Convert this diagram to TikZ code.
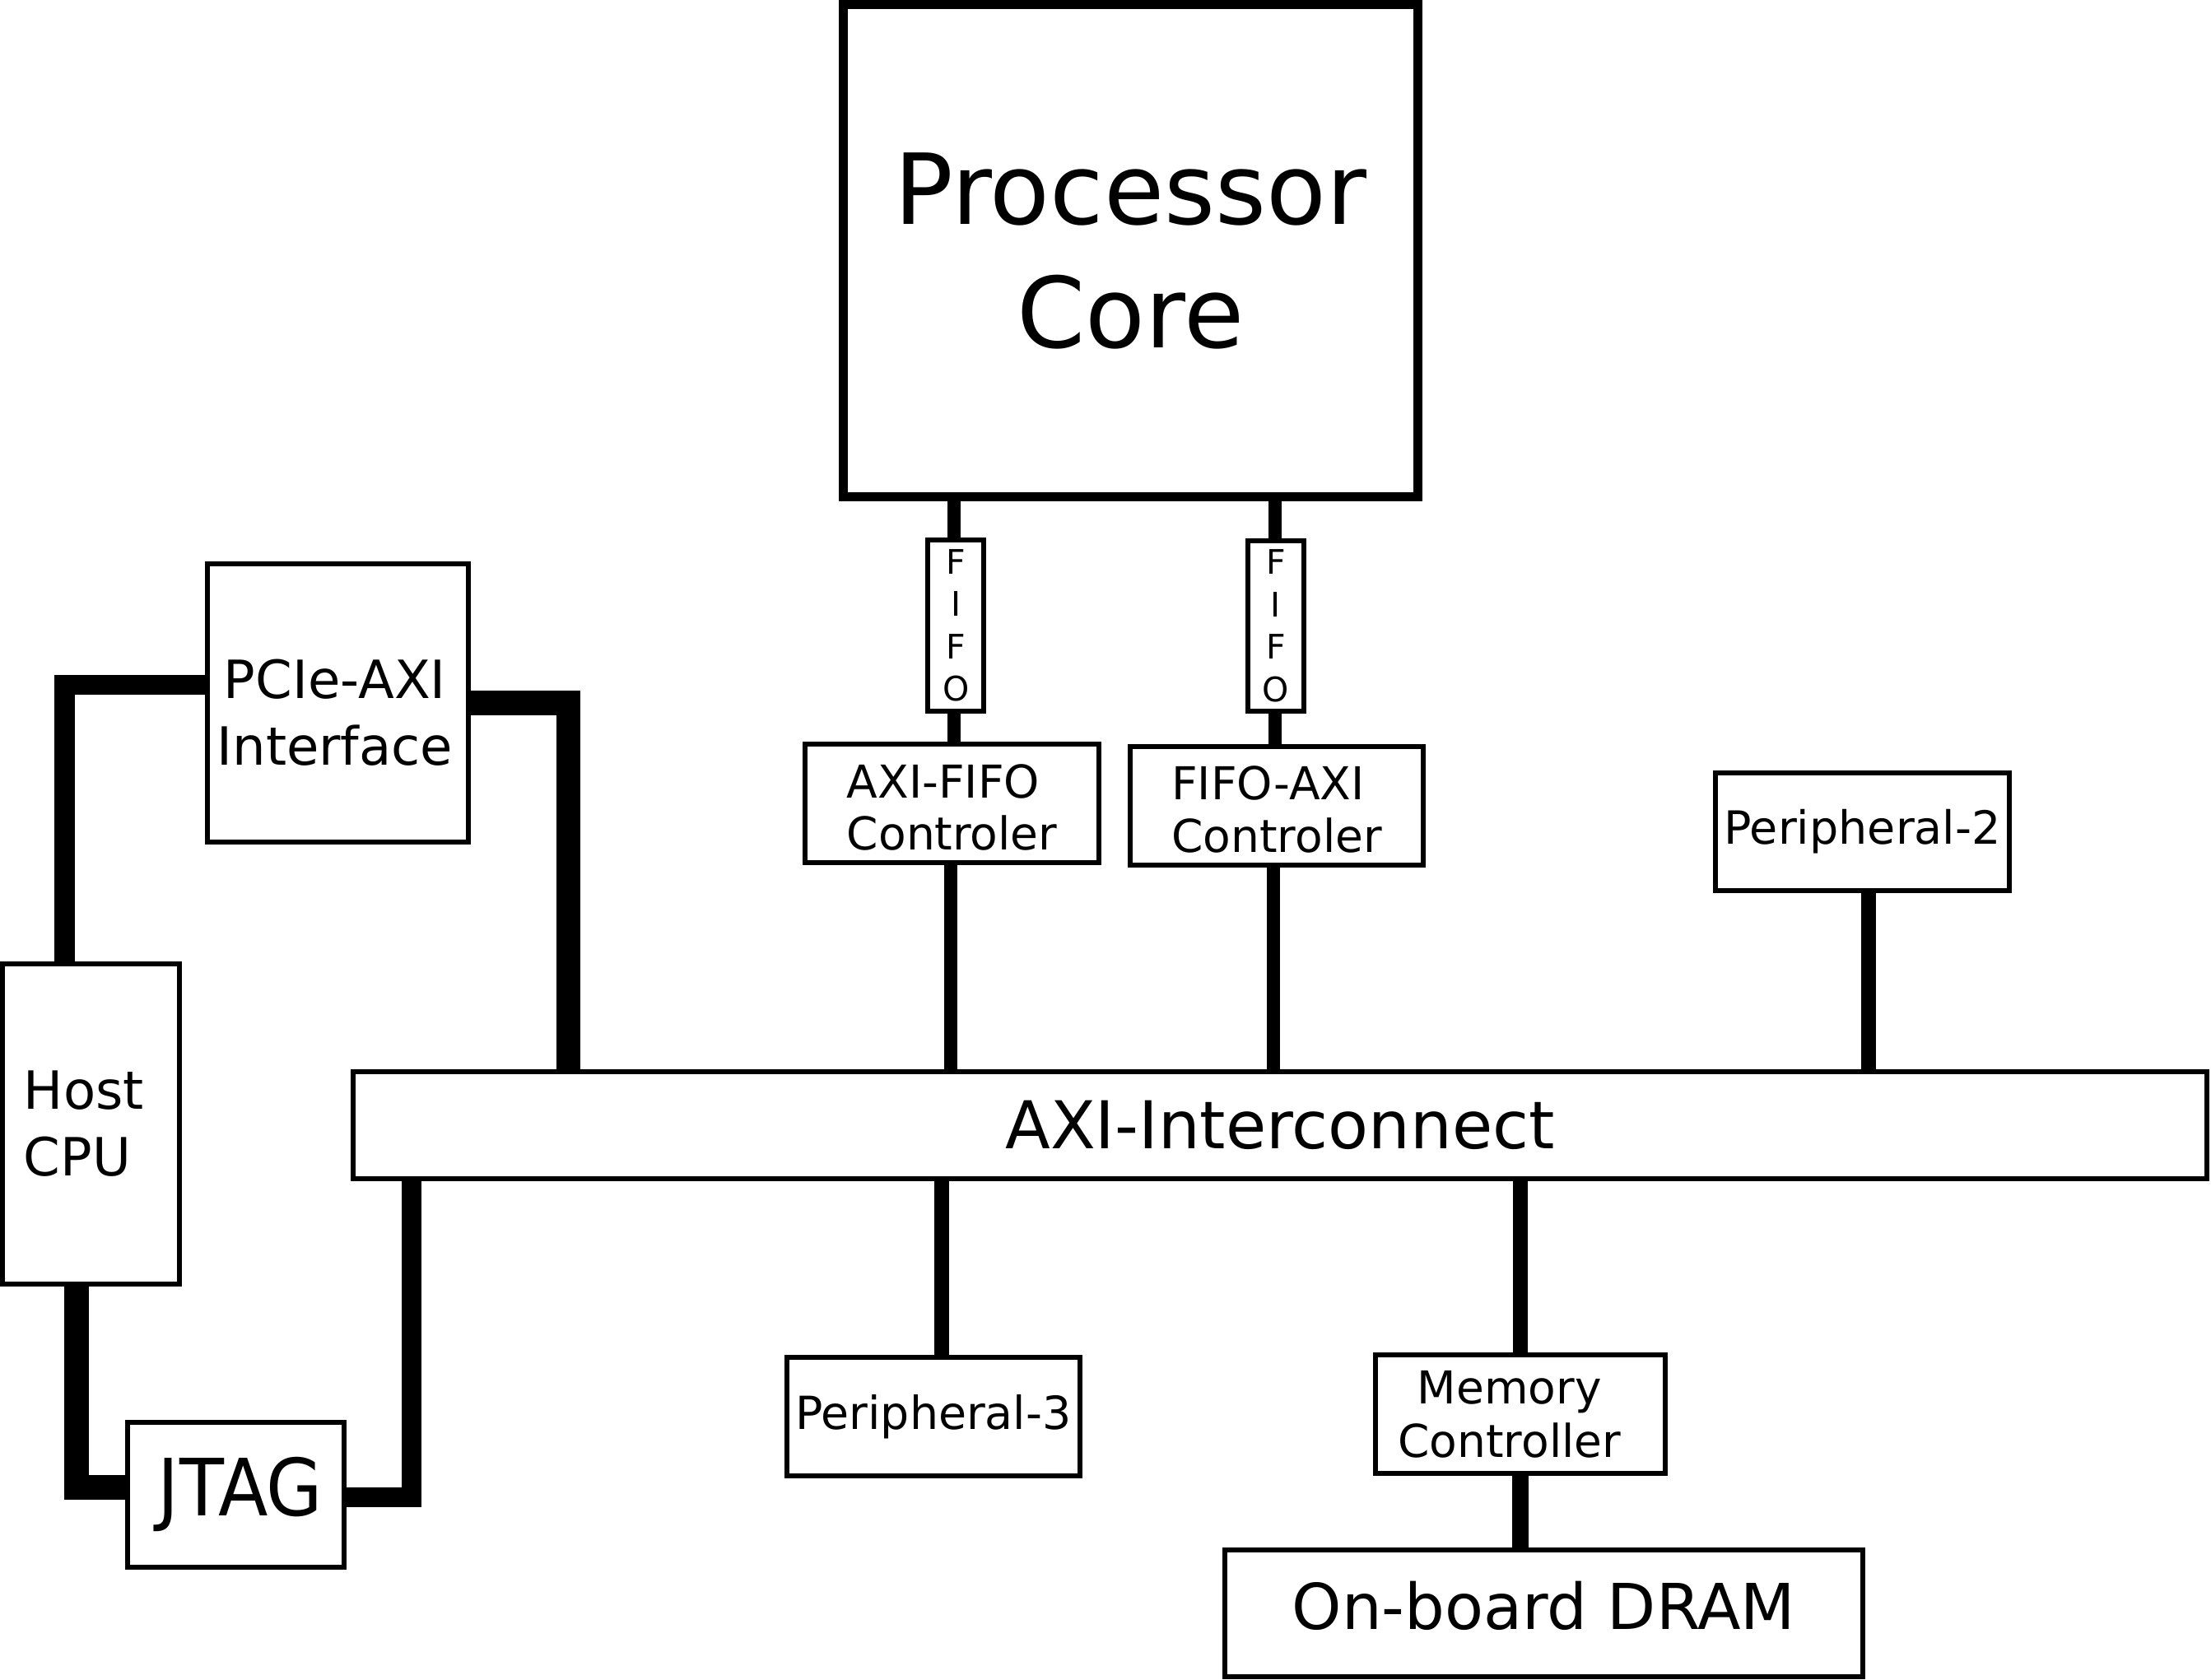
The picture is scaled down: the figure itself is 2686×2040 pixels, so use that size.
\documentclass[tikz,border=0pt]{standalone}
\usepackage{fontspec}
\setmainfont{DejaVu Sans}
\newcommand\lowerby[2]{\raisebox{#1}[\height][\depth]{#2}}
\begin{document}
\begin{tikzpicture}[x=0.01cm,y=-0.01cm,
  box/.style={draw, fill=white, rectangle, inner sep=0pt, line width=1.71pt},
  wire/.style={draw, line width=#1, line cap=butt, line join=miter},
  fbig/.style={font=\fontsize{33.86pt}{42.68pt}\selectfont},
  fmed/.style={font=\fontsize{18.2pt}{22.9pt}\selectfont},
  fsmall/.style={font=\fontsize{15.65pt}{18.1pt}\selectfont},
  ffifo/.style={font=\fontsize{11.67pt}{14.65pt}\selectfont}]
\fill[white] (0,0) rectangle (2686,2040);
\useasboundingbox (0,0) rectangle (2686,2040);

% boxes
\node[box, line width=3.13pt, minimum width=6.97cm, minimum height=5.97cm, align=center, fbig]
  (proc) at (1373.5,304.5) {Processor\\Core};
\node[box, minimum width=3.173cm, minimum height=3.37cm, align=center, fmed]
  (pcie) at (410.35,854) {\lowerby{-3.4pt}{PCIe-AXI}\hspace*{2pt}\\\lowerby{-3.4pt}{Interface}\hspace*{2pt}};
\node[box, minimum width=2.142cm, minimum height=3.887cm, align=left, fmed]
  (host) at (110.4,1365.2) {Host\hspace*{4.9pt}\\CPU};
\node[box, minimum width=2.627cm, minimum height=1.765cm, font=\fontsize{27.3pt}{32pt}\selectfont]
  (jtag) at (286.2,1815.8) {\hspace*{3.4pt}\scalebox{0.92}[1]{JTAG}};
\node[box, minimum width=22.5cm, minimum height=1.3cm, font=\fontsize{22.76pt}{27pt}\selectfont]
  (axi) at (1555,1366.7) {AXI-Interconnect};
\node[box, minimum width=0.684cm, minimum height=2.08cm, align=center, ffifo]
  (fifo1) at (1161.2,760) {F\\I\\F\\O};
\node[box, minimum width=0.679cm, minimum height=2.07cm, align=center, ffifo]
  (fifo2) at (1549.8,760.5) {F\\I\\F\\O};
\node[box, minimum width=3.562cm, minimum height=1.437cm, align=left, fsmall]
  (axififo) at (1156.6,976.2) {\lowerby{-1.4pt}{AXI-FIFO}\\\lowerby{-1.4pt}{Controler}};
\node[box, minimum width=3.56cm, minimum height=1.44cm, align=left, fsmall]
  (fifoaxi) at (1551,979) {\lowerby{-1.2pt}{FIFO-AXI}\\\lowerby{-1.2pt}{Controler}};
\node[box, minimum width=3.57cm, minimum height=1.43cm, font=\fontsize{15.8pt}{18pt}\selectfont]
  (per2) at (2262.5,1010.5) {Peripheral-2};
\node[box, minimum width=3.556cm, minimum height=1.44cm, font=\fontsize{15.75pt}{18pt}\selectfont]
  (per3) at (1133.8,1721) {Peripheral-3};
\node[box, minimum width=3.522cm, minimum height=1.437cm, align=center, font=\fontsize{15.65pt}{18.5pt}\selectfont]
  (mem) at (1846.7,1717.9) {Memory\hspace*{7.4pt}\\Controller\hspace*{7.4pt}};
\node[box, minimum width=7.746cm, minimum height=1.54cm, font=\fontsize{21.85pt}{25pt}\selectfont]
  (dram) at (1875.3,1960) {\lowerby{2.56pt}{On-board DRAM}};

% wire routing coordinates
\coordinate (xL) at (78.7,832);
\coordinate (xR) at (690.7,854);
\coordinate (xH) at (93,1807);
\coordinate (xJ) at (500.3,1818.7);
\coordinate (xa1) at (1159,0);
\coordinate (xa2) at (1155,0);
\coordinate (xb1) at (1549,0);
\coordinate (xb2) at (1547,0);
\coordinate (xp2) at (2270,0);
\coordinate (xp3) at (1143.8,0);
\coordinate (xm) at (1846.7,0);

% host side connectors
\draw[wire=7.1pt] (pcie.west |- xL) -| (host.north -| xL);
\draw[wire=8.4pt] (pcie.east |- xR) -| (axi.north -| xR);
\draw[wire=8.5pt] (host.south -| xH) |- (jtag.west |- xH);
\draw[wire=6.8pt] (jtag.east |- xJ) -| (axi.south -| xJ);

% processor side connectors
\draw[wire=4.55pt] (proc.south -| xa1) -- (fifo1.north -| xa1);
\draw[wire=4.55pt] (fifo1.south -| xa1) -- (axififo.north -| xa1);
\draw[wire=4.7pt] (axififo.south -| xa2) -- (axi.north -| xa2);
\draw[wire=4.55pt] (proc.south -| xb1) -- (fifo2.north -| xb1);
\draw[wire=4.55pt] (fifo2.south -| xb1) -- (fifoaxi.north -| xb1);
\draw[wire=4.7pt] (fifoaxi.south -| xb2) -- (axi.north -| xb2);

% peripherals and memory
\draw[wire=5.2pt] (per2.south -| xp2) -- (axi.north -| xp2);
\draw[wire=5.2pt] (axi.south -| xp3) -- (per3.north -| xp3);
\draw[wire=5.2pt] (axi.south -| xm) -- (mem.north -| xm);
\draw[wire=5.7pt] (mem.south -| xm) -- (dram.north -| xm);
\end{tikzpicture}
\end{document}
